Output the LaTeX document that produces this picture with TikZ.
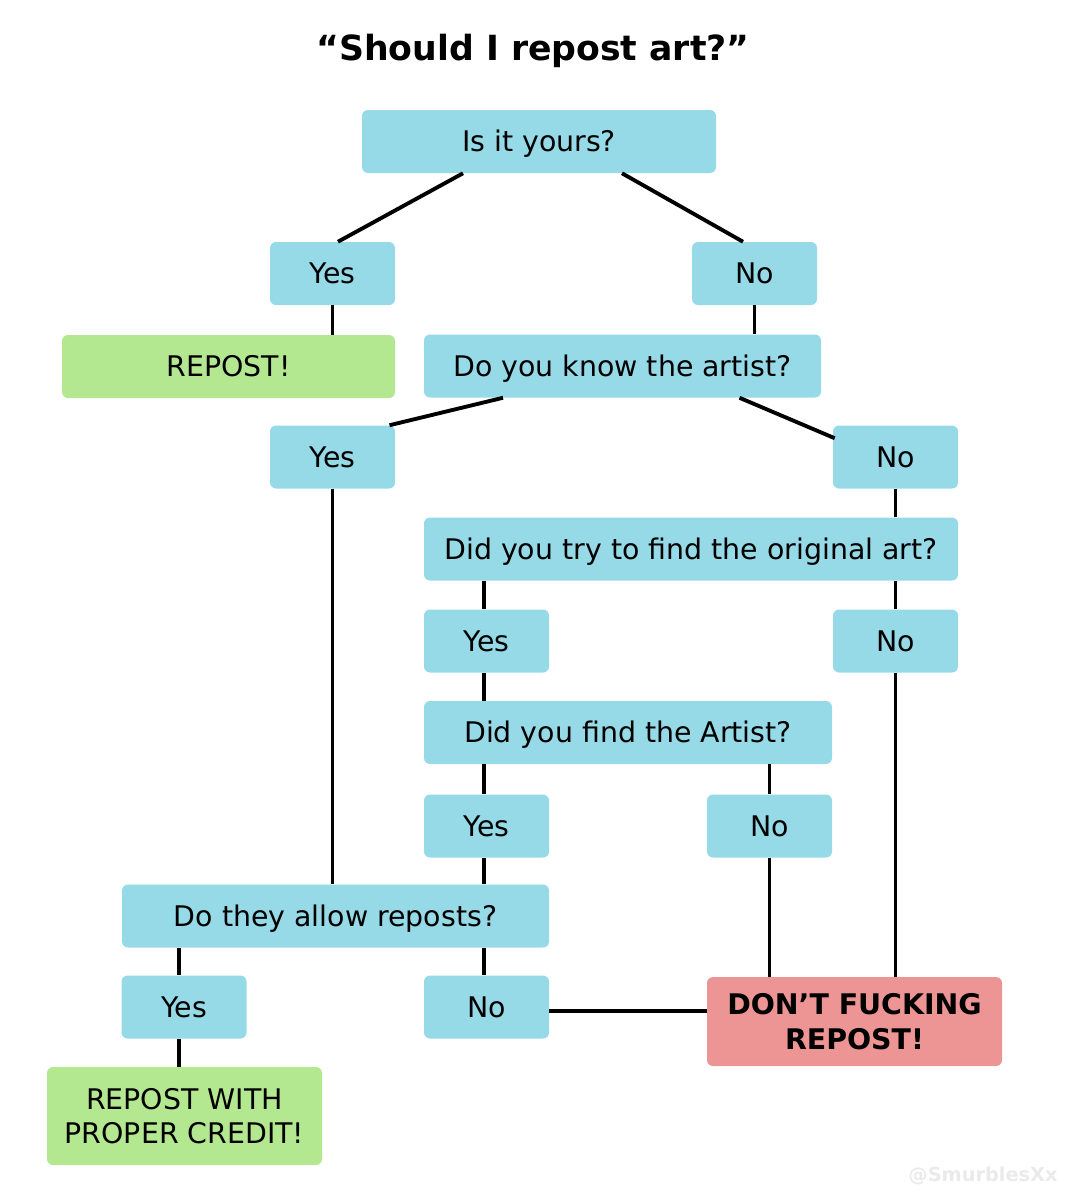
\documentclass[tikz,border=0pt]{standalone}
\usepackage{fontspec}
\setmainfont{DejaVu Sans}
\usetikzlibrary{calc}
\definecolor{boxblue}{RGB}{150,218,232}
\definecolor{boxgreen}{RGB}{179,232,145}
\definecolor{boxred}{RGB}{237,148,148}
\definecolor{wmgray}{RGB}{234,234,234}
\begin{document}
\begin{tikzpicture}[x=0.75pt,y=-0.75pt,
  box/.style={rounded corners=4.5pt, inner sep=0pt,
    font=\fontsize{21.3}{26}\selectfont},
  one/.style={text height=15.5pt, text depth=0pt},
  sz/.style 2 args={minimum width=#1*0.75pt, minimum height=#2*0.75pt},
  q/.style={box, one, fill=boxblue},
  ans/.style={box, one, fill=boxblue, sz={125}{63}},
  ok/.style={box, fill=boxgreen},
  bad/.style={box, align=center, fill=boxred, font=\bfseries\fontsize{21.3}{26}\selectfont},
  conn/.style={line width=2.9pt}]
\useasboundingbox (0,0) rectangle (1067,1200);
\node[font=\bfseries\fontsize{26}{30}\selectfont] (title) at (533,51) {“Should I repost art?”};

\node[q, sz={354}{63}] (q1) at (539,141.5) {Is it yours?};
\node[ans] (y1) at (332.5,273.5) {Yes};
\node[ans] (n1) at (754.5,273.5) {No};
\node[ok, one, sz={333}{63}] (rep) at (228.5,366.5) {REPOST!};
\node[q, sz={397}{63}] (q2) at (622.5,366) {Do you know the artist?};
\node[ans] (y2) at (332.5,457) {Yes};
\node[ans] (n2) at (895.5,457) {No};
\node[q, sz={534}{63}] (q3) at (691,549) {Did you try to find the original art?};
\node[ans] (y3) at (486.5,641) {Yes};
\node[ans] (n3) at (895.5,641) {No};
\node[q, sz={408}{63}] (q4) at (628,732.5) {Did you find the Artist?};
\node[ans] (y4) at (486.5,826) {Yes};
\node[ans] (n4) at (769.5,826) {No};
\node[q, sz={427}{63}] (q5) at (335.5,916) {Do they allow reposts?};
\node[ans] (y5) at (184,1007) {Yes};
\node[ans] (n5) at (486.5,1007) {No};
\node[bad, sz={295}{89}] (dont) at (854.5,1021.5) {DON’T FUCKING\\REPOST!};
\node[ok, align=center, sz={275}{98}] (credit) at (184.5,1116) {REPOST WITH\\PROPER CREDIT!};
\node[font=\bfseries\fontsize{14.5}{16}\selectfont, text=wmgray] (wm) at (983,1176) {@SmurblesXx};

\draw[conn] ($(q1.south)+(-76,0)$) -- ($(y1.north)+(5.5,0)$);
\draw[conn] ($(q1.south)+(83,0)$) -- ($(n1.north)+(-11.5,0)$);
\draw[conn] (y1.south) -- (y1.south |- rep.north);
\draw[conn] (n1.south) -- (n1.south |- q2.north);
\draw[conn] ($(q2.south)+(-119.5,0)$) -- ($(y2.north)+(57,0)$);
\draw[conn] ($(q2.south)+(117,0)$) -- ($(n2.north west)+(2,13)$);
\draw[conn] (y2.south) -- (y2.south |- q5.north);
\draw[conn] (n2.south) -- (n2.south |- q3.north);
\draw[conn] ([xshift=-1.9pt]y3.north) -- ([xshift=-1.9pt]y3.north |- q3.south);
\draw[conn] (n3.north) -- (n3.north |- q3.south);
\draw[conn] ([xshift=-1.9pt]y3.south) -- ([xshift=-1.9pt]y3.south |- q4.north);
\draw[conn] (n3.south) -- (n3.south |- dont.north);
\draw[conn] ([xshift=-1.9pt]y4.north) -- ([xshift=-1.9pt]y4.north |- q4.south);
\draw[conn] (n4.north) -- (n4.north |- q4.south);
\draw[conn] ([xshift=-1.9pt]y4.south) -- ([xshift=-1.9pt]y4.south |- q5.north);
\draw[conn] (n4.south) -- (n4.south |- dont.north);
\draw[conn] ([xshift=-3.75pt]y5.north) -- ([xshift=-3.75pt]y5.north |- q5.south);
\draw[conn] ([xshift=-1.9pt]n5.north) -- ([xshift=-1.9pt]n5.north |- q5.south);
\draw[conn] ([xshift=-3.75pt]y5.south) -- ([xshift=-3.75pt]y5.south |- credit.north);
\draw[conn] ([yshift=-3pt]n5.east) -- ([yshift=-3pt]n5.east -| dont.west);
\end{tikzpicture}
\end{document}
